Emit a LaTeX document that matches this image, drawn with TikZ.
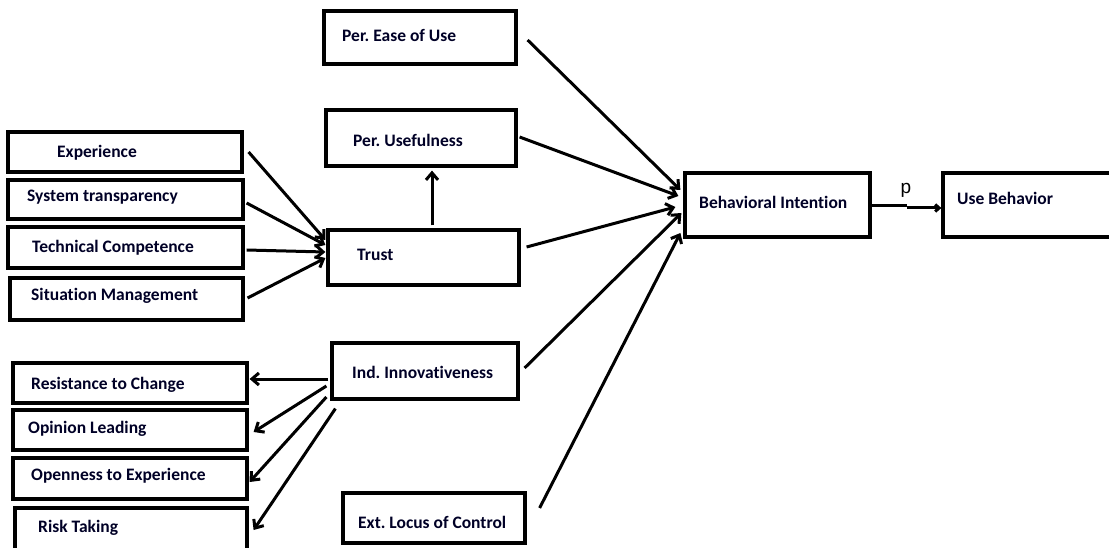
\documentclass[tikz,border=0pt]{standalone}
\usepackage{fontspec}
\setmainfont{Carlito}[Ligatures={NoCommon,NoRare,NoContextual},RawFeature={-liga;-clig;-calt;-dlig}]
\newfontfamily\psans{Liberation Sans}
\usetikzlibrary{arrows.meta,fit}
\frenchspacing
\begin{document}
\begin{tikzpicture}[x=1pt,y=-1pt,
  box/.style={draw=black,line width=3.2pt,inner sep=0pt,rectangle},
  lbl/.style={anchor=west,inner sep=0pt,font=\bfseries\fontsize{17.5}{20}\selectfont,text=black!85!blue},
  arr/.style={line width=3pt,-{Straight Barb[length=7pt,width=12pt]}},
  plain/.style={line width=3pt}]
\useasboundingbox (0,0) rectangle (1109,548);
\clip (0,0) rectangle (1109,548);
% boxes
\node[box,fit={(324,11)(516,64)}] (peou) {};
\node[box,fit={(326,110)(516,166)}] (pu) {};
\node[box,fit={(8,132)(242,172)}] (exp) {};
\node[box,fit={(8,180)(243,219)}] (sys) {};
\node[box,fit={(8,227)(243,268)}] (tech) {};
\node[box,fit={(10,278)(243,320)}] (sit) {};
\node[box,fit={(328,230)(519,285)}] (trust) {};
\node[box,fit={(332,343)(518,399)}] (inn) {};
\node[box,fit={(13,363)(247,403)}] (res) {};
\node[box,fit={(13,410)(247,450)}] (op) {};
\node[box,fit={(13,458)(247,499)}] (open) {};
\node[box,fit={(15,508)(247,560)}] (risk) {};
\node[box,fit={(343,493)(525,543)}] (ext) {};
\node[box,fit={(685,173)(870,237)}] (bi) {};
\node[box,fit={(943,173)(1125,237)}] (ub) {};
% labels
\node[lbl] (t1) at (342,35) {Per. Ease of Use};
\node[lbl] (t2) at (353,140) {Per. Usefulness};
\node[lbl] (t3) at (57,153) {Experience};
\node[lbl] (t4) at (27,197) {System transparency};
\node[lbl] (t5) at (32,248) {Technical Competence};
\node[lbl] (t6) at (31,296) {Situation Management};
\node[lbl] (t7) at (357,255) {Trust};
\node[lbl] (t8) at (352,372) {Ind. Innovativeness};
\node[lbl] (t9) at (31,385) {Resistance to Change};
\node[lbl] (t10) at (28,429) {Opinion Leading};
\node[lbl] (t11) at (31,476) {Openness to Experience};
\node[lbl] (t12) at (38,528) {Risk Taking};
\node[lbl] (t13) at (358,522) {Ext. Locus of Control};
\node[lbl] (t14) at (699,202) {Behavioral Intention};
\node[lbl] (t15) at (957,198) {Use Behavior};
% antecedents of trust
\draw[arr] ([shift={(5,0)}]exp.east) -- ([shift={(-1,-17.5)}]trust.west);
\draw[arr] ([shift={(2,3.5)}]sys.east) -- ([shift={(-1,-12.5)}]trust.west);
\draw[arr] ([shift={(2,2.5)}]tech.east) -- ([shift={(-1,-5.5)}]trust.west);
\draw[arr] ([shift={(3,-1)}]sit.east) -- ([shift={(-1,0.5)}]trust.west);
% trust -> usefulness
\draw[arr] ([shift={(8.5,-3)}]trust.north) -- ([shift={(11,3)}]pu.south);
% into behavioral intention
\draw[arr] ([shift={(10,2.5)}]peou.east) -- ([shift={(-3,-15)}]bi.west);
\draw[arr] ([shift={(2,-1)}]pu.east) -- ([shift={(-5,-9)}]bi.west);
\draw[arr] ([shift={(6,-10.5)}]trust.east) -- ([shift={(-8,2)}]bi.west);
\draw[arr] ([shift={(5,-3)}]inn.east) -- ([shift={(-2,8)}]bi.west);
\draw[arr] ([shift={(13,-10)}]ext.east) -- ([shift={(-3,28)}]bi.west);
% innovativeness dimensions
\draw[arr] ([shift={(-2,8)}]inn.west) -- ([shift={(1,-4)}]res.east);
\draw[arr] ([shift={(-4,15)}]inn.west) -- ([shift={(5,2)}]op.east);
\draw[arr] ([shift={(-4,26)}]inn.west) -- ([shift={(1,3.5)}]open.east);
\draw[arr] ([shift={(5,8)}]inn.south west) -- ([shift={(5,-4)}]risk.east);
% p path
\coordinate (pstep) at (907,206);
\draw[plain] ([shift={(0,1)}]bi.east) -- (pstep);
\draw[line width=3pt,-{Straight Barb[length=4pt,width=7pt]}] ([shift={(0,2)}]pstep) -- ([shift={(0,3)}]ub.west);
\node[inner sep=0pt,font=\psans\fontsize{19}{22}\selectfont] (plab) at (906,190) {p};
\end{tikzpicture}
\end{document}
